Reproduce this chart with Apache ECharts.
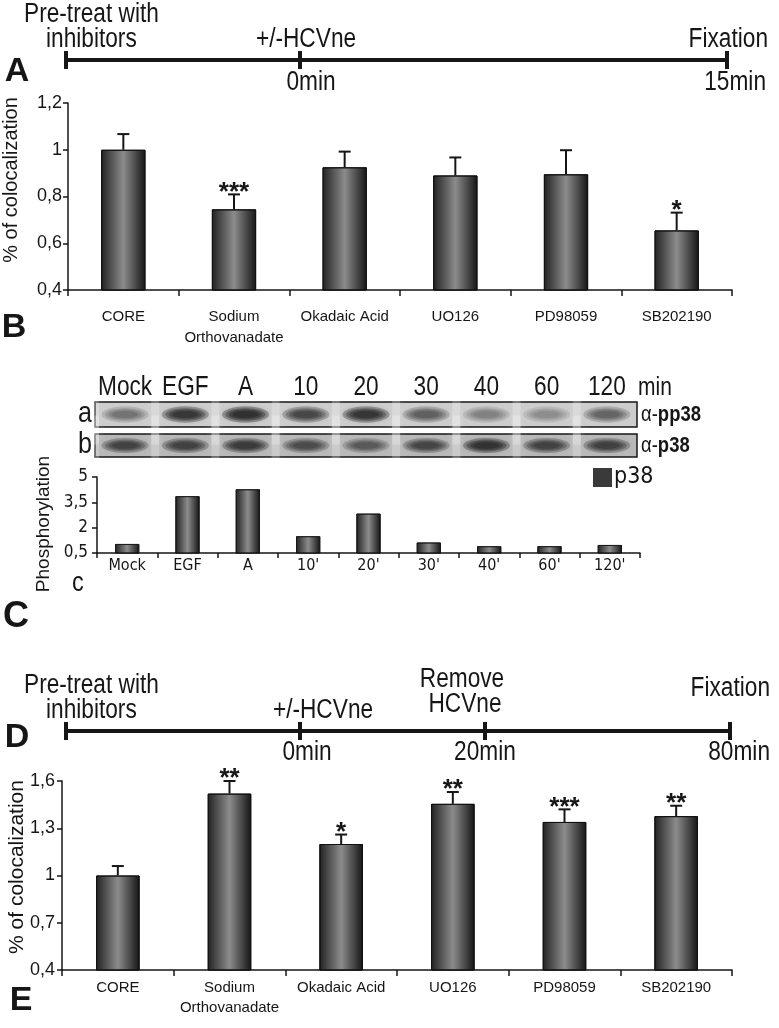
<!DOCTYPE html>
<html>
<head>
<meta charset="utf-8">
<script src="https://cdn.jsdelivr.net/npm/echarts@6/dist/echarts.min.js"></script>
<style>
html,body{margin:0;padding:0;background:#fff;}
#chart{width:779px;height:1028px;}
</style>
</head>
<body>
<div id="chart"></div>
<script>
// ---------- DATA ----------
const catsB = ['CORE', 'Sodium\nOrthovanadate', 'Okadaic Acid', 'UO126', 'PD98059', 'SB202190'];
const valsB = [1.0, 0.745, 0.925, 0.89, 0.895, 0.655];
const errB = [0.067, 0.064, 0.067, 0.077, 0.103, 0.076];
const starsB = ['', '***', '', '', '', '*'];
const yTicksB = [0.4, 0.6, 0.8, 1, 1.2];

const lanesC = ['Mock', 'EGF', 'A', '10', '20', '30', '40', '60', '120'];
const bandsPP38 = [0.42, 0.85, 0.95, 0.7, 0.88, 0.55, 0.33, 0.28, 0.5];
const bandsP38 = [0.7, 0.72, 0.78, 0.62, 0.52, 0.68, 0.9, 0.72, 0.74];
const catsC = ['Mock', 'EGF', 'A', "10'", "20'", "30'", "40'", "60'", "120'"];
const valsC = [1.03, 3.86, 4.27, 1.49, 2.83, 1.12, 0.9, 0.9, 0.97];
const yTicksC = [0.5, 2, 3.5, 5];

const catsE = ['CORE', 'Sodium\nOrthovanadate', 'Okadaic Acid', 'UO126', 'PD98059', 'SB202190'];
const valsE = [1.0, 1.52, 1.20, 1.455, 1.34, 1.377];
const errE = [0.06, 0.08, 0.06, 0.075, 0.08, 0.066];
const starsE = ['', '**', '*', '**', '***', '**'];
const yTicksE = [0.4, 0.7, 1, 1.3, 1.6];

// ---------- STYLE ----------
const CONDENSED = '"DejaVu Sans Condensed", "Liberation Sans Narrow", Arial, sans-serif';
const SANS = '"Liberation Sans", Arial, Helvetica, sans-serif';
const INK = '#161616';
const NX = 0.84; // horizontal squeeze to imitate Helvetica Narrow

const comma = v => String(+(+v).toFixed(2)).replace('.', ',');
const barGrad = () => new echarts.graphic.LinearGradient(0, 0, 1, 0, [
  {offset: 0, color: '#222222'},
  {offset: 0.5, color: '#8c8c8c'},
  {offset: 1, color: '#151515'}
]);

function errSeries(xi, yi, vals, errs, stars) {
  return {
    type: 'custom', xAxisIndex: xi, yAxisIndex: yi,
    data: vals.map((v, i) => [i, v, errs[i]]),
    z: 5,
    renderItem(params, api) {
      const i = api.value(0);
      const base = api.coord([i, api.value(1)]);
      const top = api.coord([i, api.value(1) + api.value(2)]);
      const cap = 6;
      return {type: 'group', children: [
        {type: 'line', shape: {x1: base[0], y1: base[1], x2: top[0], y2: top[1]}, style: {stroke: INK, lineWidth: 2}},
        {type: 'line', shape: {x1: top[0] - cap, y1: top[1], x2: top[0] + cap, y2: top[1]}, style: {stroke: INK, lineWidth: 2}},
        {type: 'text', style: {text: stars[params.dataIndex], x: top[0], y: top[1] - 15, align: 'center', verticalAlign: 'top',
          font: 'bold 26px ' + SANS, fill: INK}}
      ]};
    }
  };
}

function bandSeries(gi, vals, ry) {
  return {
    type: 'custom', xAxisIndex: gi, yAxisIndex: gi,
    data: vals.map((v, i) => [i, v]),
    renderItem(params, api) {
      const c = api.coord([api.value(0), 0]);
      const lw = api.size([1, 0])[0];
      const w = lw * 0.78;
      const v = api.value(1);
      const kids = [
        {type: 'rect', shape: {x: c[0] - lw / 2 - 4, y: c[1] - 30, width: 8, height: 60},
          style: {fill: 'rgba(255,255,255,0.22)', shadowBlur: 10, shadowColor: 'rgba(255,255,255,0.4)'}}
      ];
      const layers = [[1.0, 1.5], [0.85, 1.15], [0.7, 0.9], [0.55, 0.65]];
      layers.forEach(([sx, sy]) => {
        kids.push({type: 'ellipse', shape: {cx: c[0], cy: c[1], rx: w / 2 * sx, ry: ry * sy},
          style: {fill: 'rgba(20,20,20,' + (v * 0.32) + ')', shadowBlur: 4, shadowColor: 'rgba(20,20,20,' + (v * 0.3) + ')'}});
      });
      return {type: 'group', children: kids};
    }
  };
}

const axisLine = {show: true, lineStyle: {color: INK, width: 1.5}};
const axisTick = (len) => ({show: true, length: len, lineStyle: {color: INK, width: 1.5}});

const chart = echarts.init(document.getElementById('chart'), null, {renderer: 'canvas'});

function txt(x, y, text, font, align, extra) {
  return Object.assign({type: 'text', x: x, y: y, style: {text: text, font: font, fill: INK, align: align || 'left', verticalAlign: 'middle'}}, extra || {});
}
function ntxt(x, y, text, size, align, bold) {
  return txt(x, y, text, (bold ? 'bold ' : '') + size + 'px ' + SANS, align, {scaleX: NX});
}
function seg(x1, y1, x2, y2, w) {
  return {type: 'line', shape: {x1, y1, x2, y2}, style: {stroke: INK, lineWidth: w || 4}};
}
const TS = 27;
const LD = 731; // D timeline line

const graphics = [
  // Panel A timeline
  seg(66, 60, 727, 60), seg(66, 51, 66, 69), seg(300, 51, 300, 69), seg(727, 51, 727, 69),
  ntxt(24, 15, 'Pre-treat with', TS), ntxt(46, 40, 'inhibitors', TS),
  ntxt(306, 40, '+/-HCVne', TS, 'center'), ntxt(311, 83, '0min', TS, 'center'),
  ntxt(768, 40, 'Fixation', TS, 'right'), ntxt(766, 83, '15min', TS, 'right'),
  txt(17, 72, 'A', 'bold 34px ' + SANS, 'center'),
  // Panel B
  txt(14, 328, 'B', 'bold 34px ' + SANS, 'center'),
  txt(11, 180, '% of colocalization', '20px ' + SANS, 'center', {rotation: Math.PI / 2}),
  // Panel C
  ntxt(638, 388, 'min', 25),
  ntxt(85, 414, 'a', 30, 'center'),
  ntxt(85, 445, 'b', 30, 'center'),
  {type: 'text', x: 641, y: 415, scaleX: NX, style: {text: '{n|α-}{b|pp38}', verticalAlign: 'middle', rich: {
    n: {font: '22px ' + SANS, fill: INK}, b: {font: 'bold 22px ' + SANS, fill: INK}}}},
  {type: 'text', x: 641, y: 446, scaleX: NX, style: {text: '{n|α-}{b|p38}', verticalAlign: 'middle', rich: {
    n: {font: '22px ' + SANS, fill: INK}, b: {font: 'bold 22px ' + SANS, fill: INK}}}},
  txt(44, 524, 'Phosphorylation', '19px ' + SANS, 'center', {rotation: Math.PI / 2}),
  ntxt(78, 583, 'c', 28, 'center'),
  txt(16, 617, 'C', 'bold 36px ' + SANS, 'center'),
  // Panel D timeline
  seg(66, LD, 730, LD), seg(66, LD - 9, 66, LD + 9), seg(300, LD - 9, 300, LD + 9), seg(485, LD - 9, 485, LD + 9), seg(730, LD - 9, 730, LD + 9),
  ntxt(24, LD - 45, 'Pre-treat with', TS), ntxt(46, LD - 20, 'inhibitors', TS),
  ntxt(323, LD - 20, '+/-HCVne', TS, 'center'), ntxt(462, LD - 51, 'Remove', TS, 'center'), ntxt(465, LD - 26, 'HCVne', TS, 'center'),
  ntxt(770, LD - 42, 'Fixation', TS, 'right'),
  ntxt(307, LD + 22, '0min', TS, 'center'), ntxt(485, LD + 22, '20min', TS, 'center'), ntxt(770, LD + 22, '80min', TS, 'right'),
  txt(17, LD + 7, 'D', 'bold 34px ' + SANS, 'center'),
  // Panel E
  txt(17, 867, '% of colocalization', '21px ' + SANS, 'center', {rotation: Math.PI / 2}),
  txt(21, 1001, 'E', 'bold 34px ' + SANS, 'center')
];

const option = {
  animation: false,
  backgroundColor: '#ffffff',
  legend: {
    data: [{name: 'p38', itemStyle: {color: '#3a3a3a', borderWidth: 0}}],
    left: 593, top: 466, itemWidth: 19, itemHeight: 19, padding: 0,
    icon: 'rect',
    textStyle: {fontSize: 23, fontFamily: CONDENSED, color: INK, padding: [0, 0, 0, -3]}
  },
  grid: [
    {left: 68, width: 664, top: 103, height: 187, outerBoundsMode: 'none'},
    {left: 95, width: 542, top: 402, height: 25, show: true, backgroundColor: '#cdcdcd', borderColor: INK, borderWidth: 1.5, outerBoundsMode: 'none'},
    {left: 95, width: 542, top: 434, height: 23, show: true, backgroundColor: '#b9b9b9', borderColor: INK, borderWidth: 1.5, outerBoundsMode: 'none'},
    {left: 97, width: 543, top: 477, height: 76, outerBoundsMode: 'none'},
    {left: 62, width: 670, top: 781, height: 189, outerBoundsMode: 'none'}
  ],
  xAxis: [
    {type: 'category', gridIndex: 0, data: catsB, axisLine, axisTick: axisTick(6),
      axisLabel: {interval: 0, fontSize: 15, fontFamily: SANS, color: INK, margin: 16, lineHeight: 21}},
    {type: 'category', gridIndex: 1, data: lanesC, position: 'top', axisLine: {show: false}, axisTick: {show: false},
      axisLabel: {show: false}},
    {type: 'category', gridIndex: 2, data: lanesC, show: false},
    {type: 'category', gridIndex: 3, data: catsC, axisLine, axisTick: axisTick(5),
      axisLabel: {interval: 0, fontSize: 16, fontFamily: CONDENSED, color: INK, margin: 5}},
    {type: 'category', gridIndex: 4, data: catsE, axisLine, axisTick: axisTick(6),
      axisLabel: {interval: 0, fontSize: 15, fontFamily: SANS, color: INK, margin: 8, lineHeight: 20}}
  ],
  yAxis: [
    {type: 'value', gridIndex: 0, min: yTicksB[0], max: yTicksB[yTicksB.length - 1], interval: yTicksB[1] - yTicksB[0],
      axisLine, axisTick: axisTick(5), splitLine: {show: false},
      axisLabel: {formatter: comma, fontSize: 18, fontFamily: SANS, color: INK, margin: 6}},
    {type: 'category', gridIndex: 1, data: ['pp38'], show: false},
    {type: 'category', gridIndex: 2, data: ['p38'], show: false},
    {type: 'value', gridIndex: 3, min: yTicksC[0], max: yTicksC[yTicksC.length - 1], interval: yTicksC[1] - yTicksC[0],
      axisLine, axisTick: axisTick(5), splitLine: {show: false},
      axisLabel: {formatter: comma, fontSize: 17, fontFamily: CONDENSED, color: INK, margin: 9}},
    {type: 'value', gridIndex: 4, min: yTicksE[0], max: yTicksE[yTicksE.length - 1], interval: 0.3,
      axisLine, axisTick: axisTick(5), splitLine: {show: false},
      axisLabel: {formatter: comma, fontSize: 18, fontFamily: SANS, color: INK, margin: 7}}
  ],
  series: [
    {type: 'bar', name: 'B', xAxisIndex: 0, yAxisIndex: 0, data: valsB, barWidth: '40%',
      itemStyle: {color: barGrad(), borderColor: '#111', borderWidth: 1}},
    errSeries(0, 0, valsB, errB, starsB),
    bandSeries(1, bandsPP38, 5.5),
    bandSeries(2, bandsP38, 5),
    {type: 'bar', name: 'p38', xAxisIndex: 3, yAxisIndex: 3, data: valsC, barWidth: '40%',
      itemStyle: {color: barGrad(), borderColor: '#111', borderWidth: 0.8}},
    {type: 'bar', name: 'E', xAxisIndex: 4, yAxisIndex: 4, data: valsE, barWidth: '39%',
      itemStyle: {color: barGrad(), borderColor: '#111', borderWidth: 1}},
    errSeries(4, 4, valsE, errE, starsE)
  ]
};
chart.setOption(option);

// lane labels above the blot, placed through the blot's category axis
const laneLabels = lanesC.map((lab, i) => {
  const px = chart.convertToPixel({xAxisIndex: 1}, i);
  return ntxt(px, 388, lab, 27, 'center');
});
chart.setOption({graphic: {elements: graphics.concat(laneLabels)}});
</script>
</body>
</html>
